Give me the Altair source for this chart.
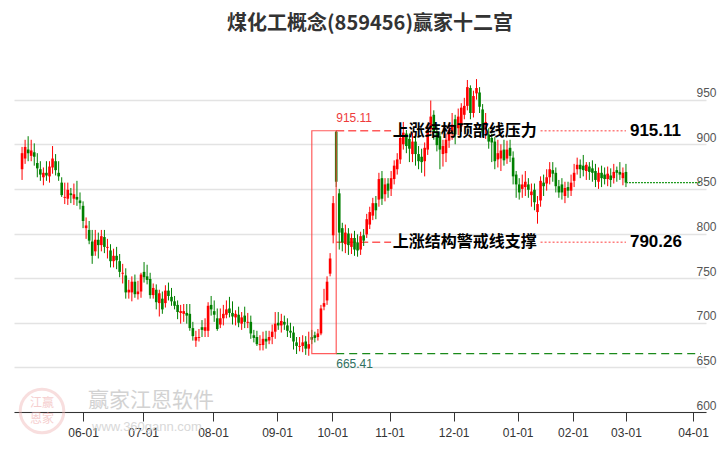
import altair as alt
import pandas as pd

# ---------------- data ----------------
title_text = "煤化工概念(859456)赢家十二宫"
start_idx = -20  # trading-day index of first candle (0 = first trading day of June)

opens = [
    872, 884, 894, 887, 891, 879, 872, 863, 868, 864,
    874, 881, 868, 857, 840, 839, 845, 839, 841, 837,
    831, 806, 804, 791, 780, 793, 787, 796, 784, 781,
    769, 775, 769, 755, 753, 734, 734, 746, 732, 735,
    757, 752, 749, 731, 737, 722, 727, 722, 736, 729,
    724, 720, 711, 710, 711, 710, 694, 680, 683, 695,
    691, 691, 720, 713, 705, 698, 705, 709, 716, 711,
    706, 709, 699, 708, 700, 701, 686, 684, 675, 675,
    682, 680, 684, 690, 700, 697, 701, 697, 691, 689,
    678, 673, 674, 679, 671, 684, 686, 684, 688, 718,
    725, 755, 798, 914, 845, 806, 788, 800, 785, 795,
    790, 782, 798, 799, 810, 820, 834, 838, 862, 844,
    856, 850, 861, 872, 883, 900, 912, 906, 889, 903,
    889, 886, 881, 894, 917, 933, 914, 909, 889, 890,
    904, 914, 928, 918, 920, 933, 943, 963, 935, 957,
    958, 939, 916, 911, 907, 903, 883, 884, 894, 884,
    896, 885, 866, 855, 850, 852, 855, 843, 849, 824,
    837, 857, 856, 863, 871, 868, 853, 855, 842, 852,
    848, 859, 872, 877, 876, 870, 875, 873, 870, 858,
    868, 866, 861, 865, 862, 871, 869, 862, 869,
]
highs = [
    897, 905, 909, 905, 901, 890, 881, 874, 881, 881,
    898, 889, 881, 863, 857, 857, 851, 856, 859, 846,
    836, 818, 814, 804, 804, 801, 804, 804, 794, 788,
    783, 785, 777, 766, 761, 748, 752, 754, 747, 756,
    768, 765, 756, 744, 743, 737, 735, 742, 745, 739,
    730, 725, 720, 721, 721, 721, 701, 691, 693, 703,
    705, 723, 730, 725, 716, 716, 720, 725, 729, 724,
    714, 718, 712, 718, 711, 708, 692, 691, 686, 690,
    691, 691, 698, 712, 712, 710, 708, 705, 700, 696,
    684, 684, 686, 685, 690, 692, 690, 693, 720, 738,
    752, 778, 842, 915.11, 850, 812, 810, 806, 800, 803,
    799, 802, 805, 822, 830, 840, 842, 868, 870, 862,
    862, 870, 882, 890, 912, 925, 916, 912, 913, 910,
    898, 895, 902, 922, 949, 938, 920, 914, 905, 912,
    921, 935, 933, 940, 946, 952, 972, 966, 960, 973,
    964, 945, 935, 918, 912, 908, 905, 900, 905, 904,
    905, 892, 870, 862, 866, 870, 862, 856, 856, 842,
    864, 866, 872, 880, 880, 874, 860, 862, 858, 858,
    866, 878, 885, 883, 888, 880, 880, 882, 878, 874,
    876, 874, 875, 873, 878, 875, 880, 874, 878,
]
lows = [
    860, 878, 881, 881, 876, 863, 859, 854, 859, 857,
    867, 865, 859, 841, 833, 832, 834, 832, 831, 827,
    806, 794, 788, 766, 775, 772, 780, 778, 772, 762,
    762, 760, 751, 744, 727, 727, 724, 728, 726, 728,
    745, 743, 727, 727, 715, 707, 710, 717, 725, 719,
    715, 704, 699, 701, 699, 691, 680, 673, 679, 684,
    684, 684, 708, 701, 691, 694, 697, 705, 706, 698,
    697, 695, 692, 694, 694, 682, 678, 674, 669, 669,
    671, 676, 676, 682, 692, 689, 692, 684, 683, 670,
    665, 668, 667, 664, 663, 676, 678, 680, 686, 714,
    720, 752, 789, 852, 782, 780, 778, 776, 777, 775,
    774, 776, 786, 795, 805, 815, 816, 830, 832, 836,
    840, 842, 855, 866, 878, 894, 890, 880, 880, 876,
    872, 868, 864, 888, 912, 905, 892, 872, 875, 880,
    896, 905, 900, 910, 914, 928, 938, 928, 930, 950,
    935, 908, 906, 895, 880, 872, 874, 870, 876, 878,
    880, 855, 840, 838, 840, 842, 840, 830, 826, 811,
    830, 842, 848, 855, 858, 846, 840, 838, 834, 840,
    842, 852, 866, 862, 864, 860, 860, 858, 852, 850,
    852, 855, 853, 852, 856, 858, 860, 854, 852,
]
closes = [
    890, 897, 890, 893, 886, 873, 866, 868, 865, 875,
    884, 871, 864, 843, 841, 849, 843, 844, 838, 834,
    814, 809, 792, 775, 793, 787, 797, 785, 785, 769,
    775, 770, 757, 756, 734, 737, 746, 732, 735, 754,
    751, 748, 731, 739, 723, 733, 715, 736, 730, 724,
    719, 712, 713, 713, 708, 694, 685, 684, 684, 692,
    695, 719, 715, 709, 693, 705, 710, 715, 711, 707,
    710, 700, 706, 701, 701, 688, 683, 676, 676, 682,
    679, 684, 690, 699, 697, 702, 698, 691, 689, 679,
    674, 674, 678, 671, 676, 681, 683, 688, 716, 722,
    746, 772, 834, 858, 801, 790, 801, 787, 795, 782,
    781, 797, 792, 816, 824, 834, 826, 861, 839, 855,
    848, 862, 876, 883, 907, 913, 898, 895, 903, 889,
    881, 880, 896, 916, 931, 913, 899, 894, 898, 905,
    916, 922, 911, 931, 941, 943, 964, 935, 954, 963,
    942, 913, 925, 903, 902, 881, 890, 893, 882, 894,
    887, 864, 855, 846, 855, 858, 849, 847, 835, 833,
    859, 853, 863, 872, 867, 853, 846, 846, 851, 848,
    857, 868, 877, 872, 871, 877, 869, 868, 860, 868,
    862, 861, 867, 860, 869, 868, 866, 868, 857,
]

tick_pos = [0, 19.7, 42.6, 63.6, 81.7, 100.5, 121.5, 142.5, 160.6, 178.0, 200]
tick_lab = ["06-01", "07-01", "08-01", "09-01", "10-01", "11-01",
            "12-01", "01-01", "02-01", "03-01", "04-01"]
y_ticks = [600, 650, 700, 750, 800, 850, 900, 950]

top_value = 915.11        # 上涨结构顶部线压力
support_value = 790.26    # 上涨结构警戒线支撑
low_value = 665.41
top_label = "上涨结构顶部线压力"
support_label = "上涨结构警戒线支撑"

# annotation anchors (trading-day index units)
box_left, box_right = 75, 83
label_start = 101.5
dot_start, dot_end = 150, 178
value_text_x = 179.3
x_min, x_max = -21.0, 202.6
y_min, y_max = 600, 1000

# ---------------- frames ----------------
n = len(opens)
df = pd.DataFrame({
    "idx": list(range(start_idx, start_idx + n)),
    "o": opens, "h": highs, "l": lows, "c": closes,
})
df["dir"] = ["up" if c >= o else "down" for o, c in zip(opens, closes)]

xs = alt.Scale(domain=[x_min, x_max], nice=False, zero=False)
ys = alt.Scale(domain=[y_min, y_max], nice=False, zero=False)
color = alt.Color("dir:N", scale=alt.Scale(domain=["up", "down"], range=["#ff0000", "#008000"]), legend=None)

label_expr = "".join(f"datum.value == {p} ? '{l}' : " for p, l in zip(tick_pos, tick_lab)) + "''"

x_axis = alt.Axis(values=tick_pos, labelExpr=label_expr, grid=False, domainColor="#333333",
                  domainWidth=1, tickColor="#333333", tickSize=9, labelColor="#333333",
                  labelFont="Liberation Sans", labelFontSize=12, labelPadding=6, title=None,
                  labelFlush=False, labelOverlap=False)
y_axis = alt.Axis(orient="right", values=y_ticks, grid=True, gridColor="#e3e3e3", gridWidth=1.5,
                  domain=False, ticks=False, tickSize=0, labelAlign="right", labelBaseline="bottom",
                  labelPadding=10, labelColor="#555555", labelFont="Liberation Sans",
                  labelFontSize=12, title=None)


def X(field):
    return alt.X(field, scale=xs, axis=x_axis)


def Y(field):
    return alt.Y(field, scale=ys, axis=y_axis)


base = alt.Chart(df)
wicks = base.mark_rule(strokeWidth=1).encode(x=X("idx:Q"), y=Y("l:Q"), y2="h:Q", color=color)
bodies = base.mark_bar(size=2.6).encode(x=X("idx:Q"), y=Y("o:Q"), y2="c:Q", color=color)


def hline(x0, x1, yv, col, dash, width=1.5, opacity=1.0):
    d = pd.DataFrame({"x": [x0], "x2": [x1], "y": [yv]})
    return alt.Chart(d).mark_rule(color=col, strokeDash=dash, strokeWidth=width, opacity=opacity).encode(
        x=X("x:Q"), x2="x2:Q", y=Y("y:Q"))


red_dash_top = hline(box_right, label_start - 0.5, top_value, "#ff5a5a", [8, 4])
red_dash_sup = hline(box_right, label_start - 0.5, support_value, "#ff5a5a", [8, 4])
red_dot_top = hline(dot_start, dot_end, top_value, "#ff7070", [2, 2], 1.5, 0.9)
red_dot_sup = hline(dot_start, dot_end, support_value, "#ff7070", [2, 2], 1.5, 0.9)
green_dash = hline(box_right, x_max, low_value, "#1a8a1a", [8, 5], 1.2)
green_dot = hline(start_idx + n - 1, x_max, closes[-1], "#1f9a1f", [2, 1], 1.2)

box_df = pd.DataFrame({"x": [box_left], "x2": [box_right], "y": [low_value], "y2": [top_value]})
box = alt.Chart(box_df).mark_rect(fill="transparent", stroke="#ff4040", strokeWidth=1.2, opacity=0.85).encode(
    x=X("x:Q"), x2="x2:Q", y=Y("y:Q"), y2="y2:Q")


def txt(xv, yv, s, col, size, weight, font, dy=0):
    d = pd.DataFrame({"x": [xv], "y": [yv], "t": [s]})
    return alt.Chart(d).mark_text(align="left", baseline="middle", color=col, fontSize=size,
                                  fontWeight=weight, font=font, dy=dy).encode(
        x=X("x:Q"), y=Y("y:Q"), text="t:N")


t_top_small = txt(box_right, top_value, f"{top_value:.2f}", "#ee3b3b", 12, "normal", "Liberation Sans", dy=-13)
t_low_small = txt(box_right, low_value, f"{low_value:.2f}", "#2f7060", 12, "normal", "Liberation Sans", dy=10)
t_top_lab = txt(label_start, top_value, top_label, "#000000", 16, "bold", "Noto Sans CJK SC")
t_sup_lab = txt(label_start, support_value, support_label, "#000000", 16, "bold", "Noto Sans CJK SC")
t_top_val = txt(value_text_x, top_value, f"{top_value:.2f}", "#000000", 17, "bold", "Liberation Sans")
t_sup_val = txt(value_text_x, support_value, f"{support_value:.2f}", "#000000", 17, "bold", "Liberation Sans")

one = pd.DataFrame({"t": [title_text]})
title = alt.Chart(one).mark_text(align="center", baseline="middle", fontSize=20, fontWeight="bold",
                                 font="Noto Sans CJK SC", color="#333333").encode(
    x=alt.value(356), y=alt.value(-31), text="t:N")

wm = pd.DataFrame({"t": ["赢家江恩软件"]})
wm1 = alt.Chart(wm).mark_text(align="center", baseline="middle", fontSize=21, font="Noto Sans CJK SC",
                              color="#c8c8c8", opacity=0.8).encode(
    x=alt.value(137), y=alt.value(346), text="t:N")
wm2d = pd.DataFrame({"t": ["www.360gann.com"]})
wm2 = alt.Chart(wm2d).mark_text(align="center", baseline="middle", fontSize=13, font="Liberation Sans",
                                color="#cfcfcf", opacity=0.8).encode(
    x=alt.value(133), y=alt.value(372), text="t:N")
logo = alt.Chart(pd.DataFrame({"t": ["logo"]})).mark_point(shape="circle", size=1900, strokeWidth=3,
                                                            color="#f0b8b8", opacity=0.45).encode(
    x=alt.value(28), y=alt.value(356))
logo_t1 = alt.Chart(pd.DataFrame({"t": ["江赢"]})).mark_text(fontSize=12, font="Noto Sans CJK SC",
                                                            color="#f0b0b0", opacity=0.6).encode(
    x=alt.value(28), y=alt.value(348), text="t:N")
logo_t2 = alt.Chart(pd.DataFrame({"t": ["恩家"]})).mark_text(fontSize=12, font="Noto Sans CJK SC",
                                                            color="#f0b0b0", opacity=0.6).encode(
    x=alt.value(28), y=alt.value(364), text="t:N")

chart = alt.layer(
    logo, logo_t1, logo_t2, wm1, wm2,
    red_dash_top, red_dash_sup, green_dash,
    wicks, bodies,
    box, red_dot_top, red_dot_sup, green_dot,
    t_top_small, t_low_small, t_top_lab, t_sup_lab, t_top_val, t_sup_val, title,
).properties(
    width=692, height=357,
    autosize=alt.AutoSizeParams(type="none"),
    padding={"left": 6, "top": 47, "right": 12, "bottom": 28},
).configure_view(stroke=None)

chart.save("out.html", embed_options={"renderer": "svg", "actions": False})
